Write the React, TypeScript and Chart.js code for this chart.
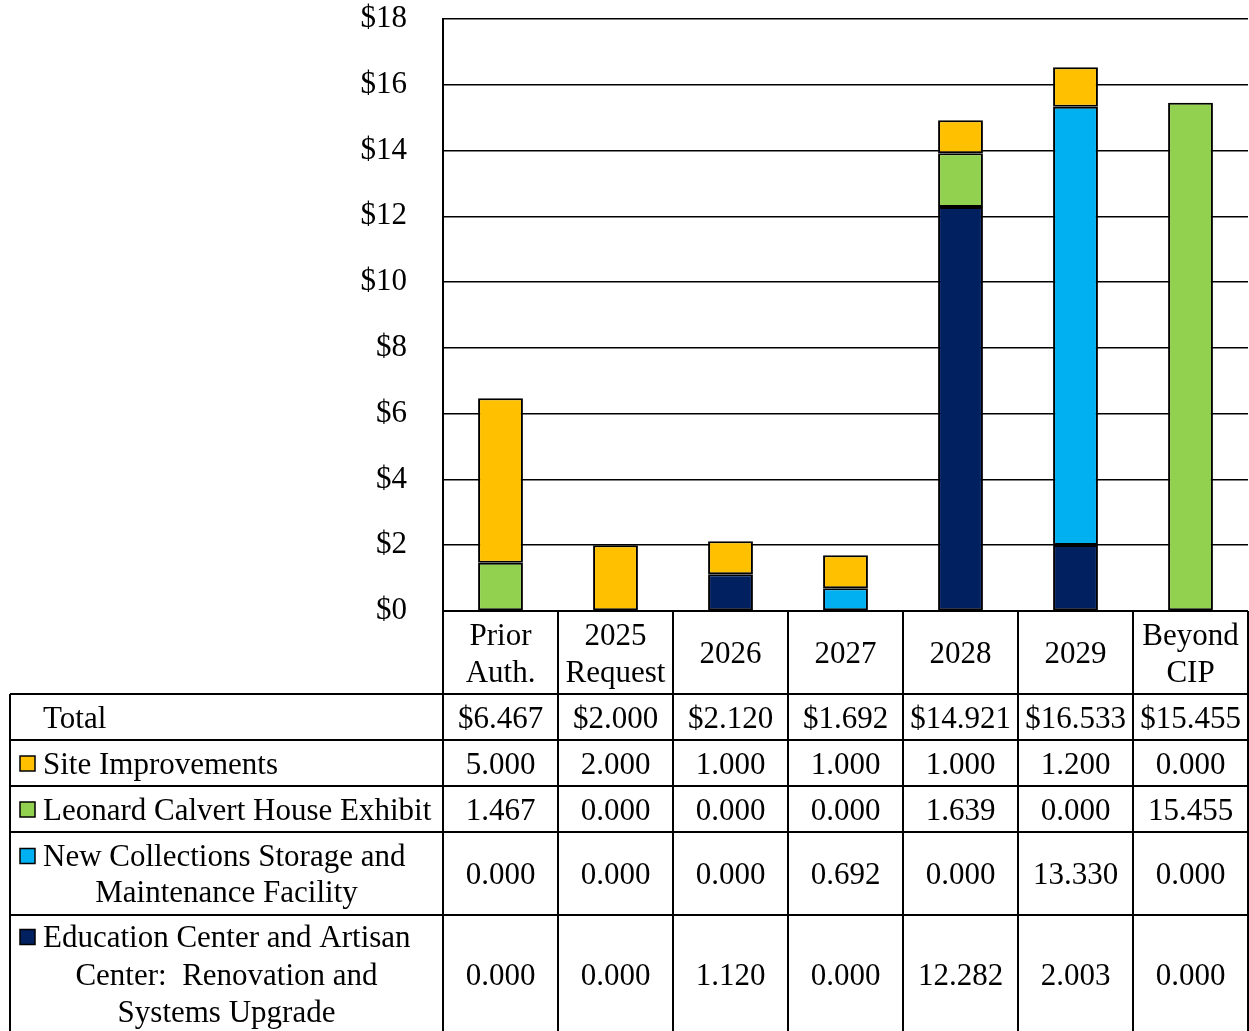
import React, { useEffect, useRef } from "react";
import { Chart, registerables } from "chart.js";

Chart.register(...registerables);

const categories: string[][] = [
  ["Prior", "Auth."],
  ["2025", "Request"],
  ["2026"],
  ["2027"],
  ["2028"],
  ["2029"],
  ["Beyond", "CIP"],
];

const siteImprovements = [5.0, 2.0, 1.0, 1.0, 1.0, 1.2, 0.0];
const leonardCalvert = [1.467, 0.0, 0.0, 0.0, 1.639, 0.0, 15.455];
const newCollections = [0.0, 0.0, 0.0, 0.692, 0.0, 13.33, 0.0];
const educationCenter = [0.0, 0.0, 1.12, 0.0, 12.282, 2.003, 0.0];
const totals = [6.467, 2.0, 2.12, 1.692, 14.921, 16.533, 15.455];

const seriesNames: string[][] = [
  ["Site Improvements"],
  ["Leonard Calvert House Exhibit"],
  ["New Collections Storage and", "Maintenance Facility"],
  ["Education Center and Artisan", "Center:  Renovation and", "Systems Upgrade"],
];
const seriesColors = ["#FFC000", "#92D050", "#00B0F0", "#002060"];
const seriesValues = [siteImprovements, leonardCalvert, newCollections, educationCenter];

const yMin = 0;
const yMax = 18;
const yStep = 2;

const FONT_FAMILY = '"Liberation Serif", "Times New Roman", serif';
const FONT_SIZE = 31;

const tablePlugin = {
  id: "dataTable",
  afterDraw(chart: any) {
    const ctx: CanvasRenderingContext2D = chart.ctx;
    const area = chart.chartArea;
    const n = categories.length;
    const colW = (area.right - area.left) / n;
    const tableLeft = 10;
    const bottom = chart.height + 2;
    const headerTop = area.bottom;
    const headerH = 83;
    const rowHeights = [46, 46, 46, 83, 118];
    const capHalf = FONT_SIZE * 0.34;

    ctx.save();
    ctx.strokeStyle = "#000";
    ctx.lineWidth = 2;
    ctx.fillStyle = "#000";
    ctx.font = `${FONT_SIZE}px ${FONT_FAMILY}`;
    ctx.textBaseline = "alphabetic";

    const edges: number[] = [headerTop + headerH];
    rowHeights.forEach((h) => edges.push(edges[edges.length - 1] + h));

    ctx.beginPath();
    ctx.moveTo(area.left, headerTop);
    ctx.lineTo(area.right, headerTop);
    for (let i = 0; i < edges.length - 1; i++) {
      ctx.moveTo(tableLeft, edges[i]);
      ctx.lineTo(area.right, edges[i]);
    }
    for (let i = 0; i <= n; i++) {
      const x = Math.round(area.left + i * colW);
      ctx.moveTo(x, headerTop);
      ctx.lineTo(x, bottom);
    }
    ctx.moveTo(tableLeft, edges[0]);
    ctx.lineTo(tableLeft, bottom);
    ctx.stroke();

    ctx.textAlign = "center";
    const headerCenter = headerTop + headerH / 2;
    categories.forEach((lines, i) => {
      const cx = chart.scales.x.getPixelForValue(i);
      const gap = 37;
      const start = headerCenter - ((lines.length - 1) * gap) / 2;
      lines.forEach((t, j) => {
        ctx.fillText(t, cx, start + j * gap + capHalf);
      });
    });

    const totalCenter = (edges[0] + edges[1]) / 2;
    ctx.textAlign = "left";
    ctx.fillText("Total", 43, totalCenter + capHalf);
    ctx.textAlign = "center";
    totals.forEach((v, i) => {
      const cx = chart.scales.x.getPixelForValue(i);
      ctx.fillText("$" + v.toFixed(3), cx, totalCenter + capHalf);
    });

    const labelCenterX = (tableLeft + area.left) / 2;
    seriesNames.forEach((lines, r) => {
      const top = edges[r + 1];
      const bot = edges[r + 2];
      const center = (top + bot) / 2;
      const gap = lines.length > 2 ? 37.5 : 36;
      const start = center - ((lines.length - 1) * gap) / 2;
      lines.forEach((t, j) => {
        const yc = start + j * gap;
        if (j === 0) {
          ctx.fillStyle = seriesColors[r];
          ctx.fillRect(20, yc - 7, 15, 15);
          ctx.lineWidth = 1.5;
          ctx.strokeRect(20, yc - 7, 15, 15);
          ctx.fillStyle = "#000";
          ctx.textAlign = "left";
          ctx.fillText(t, 43, yc + capHalf);
        } else {
          ctx.textAlign = "center";
          ctx.fillText(t, labelCenterX, yc + capHalf);
        }
      });
      ctx.textAlign = "center";
      seriesValues[r].forEach((v, i) => {
        const cx = chart.scales.x.getPixelForValue(i);
        ctx.fillText(v.toFixed(3), cx, center + capHalf);
      });
    });

    ctx.restore();
  },
};

export default function App() {
  const canvasRef = useRef<HTMLCanvasElement | null>(null);

  useEffect(() => {
    if (!canvasRef.current) return;
    const toBar = (arr: number[]) => arr.map((v) => (v === 0 ? null : v));
    const stackOrder = [3, 2, 1, 0];
    const chart = new Chart(canvasRef.current, {
      type: "bar",
      data: {
        labels: categories.map((c) => c.join(" ")),
        datasets: stackOrder.map((r) => ({
          label: seriesNames[r].join(" "),
          data: toBar(seriesValues[r]) as any,
          backgroundColor: seriesColors[r],
          borderColor: "#000",
          borderWidth: 2,
          borderSkipped: false,
          categoryPercentage: 1,
          barPercentage: 0.39,
        })),
      },
      options: {
        responsive: false,
        animation: false,
        devicePixelRatio: 1,
        layout: { padding: { left: 0, right: 1, top: 19, bottom: 420 } },
        plugins: {
          legend: { display: false },
          tooltip: { enabled: false },
          title: { display: false },
        },
        scales: {
          x: {
            display: false,
            stacked: true,
          },
          y: {
            stacked: true,
            min: yMin,
            max: yMax,
            afterFit(scale: any) {
              scale.width = 443;
              scale.paddingTop = 0;
              scale.paddingBottom = 0;
            },
            ticks: {
              stepSize: yStep,
              padding: 36,
              color: "#000",
              font: { family: FONT_FAMILY, size: FONT_SIZE },
              callback: (v: any) => "$" + v,
            },
            grid: {
              color: "#000",
              lineWidth: 1.6,
              drawTicks: false,
            },
            border: { color: "#000", width: 2 },
          },
        },
      },
      plugins: [tablePlugin],
    });
    return () => chart.destroy();
  }, []);

  return (
    <div style={{ position: "absolute", left: 0, top: 0, width: 1249, height: 1031, background: "#fff" }}>
      <canvas ref={canvasRef} width={1249} height={1031} style={{ display: "block" }} />
    </div>
  );
}
